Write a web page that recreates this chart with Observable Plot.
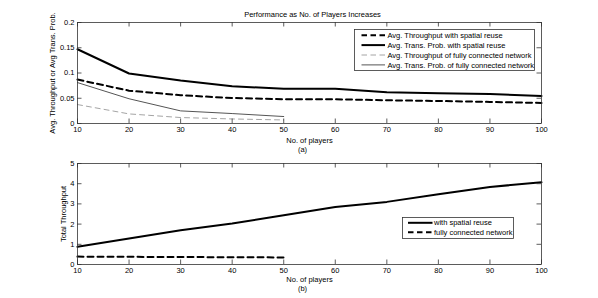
<!DOCTYPE html>
<html>
<head>
<meta charset="utf-8">
<script src="https://cdn.jsdelivr.net/npm/d3@7"></script>
<script src="https://cdn.jsdelivr.net/npm/@observablehq/plot@0.6"></script>
<style>
  html, body { margin: 0; padding: 0; background: #fff; }
  #wrap { position: relative; width: 598px; height: 298px; overflow: hidden; font-family: "Liberation Sans", Arial, sans-serif; }
  #wrap svg.plotsvg { position: absolute; left: 0; }
  .legend { position: absolute; }
</style>
</head>
<body>
<div id="wrap"></div>
<script>
// ---------- data ----------
const players = [10, 20, 30, 40, 50, 60, 70, 80, 90, 100];
const playersFull = [10, 20, 30, 40, 50];

// panel (a)
const avgThrSpatial = [0.087, 0.065, 0.056, 0.0505, 0.048, 0.048, 0.046, 0.0446, 0.0427, 0.0407];
const avgTPSpatial  = [0.147, 0.099, 0.085, 0.0736, 0.069, 0.069, 0.062, 0.060, 0.0585, 0.0545];
const avgThrFull    = [0.0375, 0.019, 0.0118, 0.009, 0.007];
const avgTPFull     = [0.081, 0.049, 0.025, 0.0197, 0.0138];

// panel (b)
const totThrSpatial = [0.88, 1.29, 1.70, 2.03, 2.44, 2.85, 3.10, 3.48, 3.84, 4.07];
const totThrFull    = [0.39, 0.38, 0.37, 0.36, 0.35];

// ticks
const xTicks = [10, 20, 30, 40, 50, 60, 70, 80, 90, 100];
const yTicksA = [0, 0.05, 0.1, 0.15, 0.2];
const yTicksB = [0, 1, 2, 3, 4, 5];

// labels
const titleText = "Performance as No. of Players Increases";
const xLabel = "No. of players";
const yLabelA = "Avg. Throughput or Avg Trans. Prob.";
const yLabelB = "Total Throughput";
const legendA = [
  "Avg. Throughput with spatial reuse",
  "Avg. Trans. Prob. with spatial reuse",
  "Avg. Throughput of fully connected network",
  "Avg. Trans. Prob. of fully connected network"
];
const legendB = ["with spatial reuse", "fully connected network"];

// ---------- styles ----------
const FONT = "Liberation Sans, Arial, sans-serif";
const AX = "#333";
const seriesA = [
  {name: legendA[0], xs: players, ys: avgThrSpatial, stroke: "#000", width: 2, dash: "6,4"},
  {name: legendA[1], xs: players, ys: avgTPSpatial, stroke: "#000", width: 2, dash: null},
  {name: legendA[2], xs: playersFull, ys: avgThrFull, stroke: "#9a9a9a", width: 0.9, dash: "5,4"},
  {name: legendA[3], xs: playersFull, ys: avgTPFull, stroke: "#555", width: 1, dash: null}
];
const seriesB = [
  {name: legendB[0], xs: players, ys: totThrSpatial, stroke: "#000", width: 2, dash: null},
  {name: legendB[1], xs: playersFull, ys: totThrFull, stroke: "#000", width: 2, dash: "6,4"}
];

const W = 598;
const ML = 77, MR = 57;
const TICK = 4.5;

function panel({height, marginTop, marginBottom, yDomain, yTicks, yFormat, series, yLabel, yLabelDx, xLabelDy, capText, capDy, title}) {
  const innerW = W - ML - MR;
  const innerH = height - marginTop - marginBottom;
  const marks = [];
  for (const s of series) {
    const rows = s.xs.map((x, i) => ({x, y: s.ys[i]}));
    marks.push(Plot.line(rows, {x: "x", y: "y", stroke: s.stroke, strokeWidth: s.width, strokeDasharray: s.dash || undefined}));
  }
  marks.push(
    Plot.frame({stroke: AX, strokeWidth: 0.8}),
    // inward ticks on all four sides
    Plot.tickX(xTicks, {x: d => d, insetTop: innerH - TICK, stroke: AX, strokeWidth: 0.8}),
    Plot.tickX(xTicks, {x: d => d, insetBottom: innerH - TICK, stroke: AX, strokeWidth: 0.8}),
    Plot.tickY(yTicks, {y: d => d, insetRight: innerW - TICK, stroke: AX, strokeWidth: 0.8}),
    Plot.tickY(yTicks, {y: d => d, insetLeft: innerW - TICK, stroke: AX, strokeWidth: 0.8}),
    Plot.axisX(xTicks, {tickSize: 0, tickPadding: 3, label: null, fontSize: 7.5, fill: "#000"}),
    Plot.axisY(yTicks, {tickSize: 0, tickPadding: 3, label: null, tickFormat: yFormat, fontSize: 7.5, fill: "#000"}),
    Plot.text([yLabel], {text: d => d, frameAnchor: "left", rotate: -90, textAnchor: "middle", lineAnchor: "middle", dx: yLabelDx, fontSize: 7.5, fill: "#000"}),
    Plot.text([xLabel], {text: d => d, frameAnchor: "bottom", textAnchor: "middle", lineAnchor: "middle", dy: xLabelDy, fontSize: 7.5, fill: "#000"}),
    Plot.text([capText], {text: d => d, frameAnchor: "bottom", textAnchor: "middle", lineAnchor: "middle", dy: capDy, dx: -7, fontSize: 7.5, fill: "#000"})
  );
  if (title) {
    marks.push(Plot.text([title], {text: d => d, frameAnchor: "top", textAnchor: "middle", lineAnchor: "middle", dy: -7.7, dx: 3, fontSize: 7.5, fill: "#000"}));
  }
  const svg = Plot.plot({
    width: W, height,
    marginLeft: ML, marginRight: MR, marginTop, marginBottom,
    x: {domain: [10, 100]},
    y: {domain: yDomain},
    style: {background: "transparent", overflow: "visible", fontFamily: FONT, fontSize: "7.5px", color: "#000"},
    marks
  });
  svg.classList.add("plotsvg");
  return svg;
}

const wrap = document.getElementById("wrap");

const svgA = panel({
  height: 150, marginTop: 22, marginBottom: 27,
  yDomain: [0, 0.2], yTicks: yTicksA, yFormat: d => String(d),
  series: seriesA, yLabel: yLabelA, yLabelDx: -24.5,
  xLabelDy: 17, capText: "(a)", capDy: 26, title: titleText
});
svgA.style.top = "0px";
wrap.appendChild(svgA);

const svgB = panel({
  height: 158, marginTop: 23, marginBottom: 34,
  yDomain: [0, 5], yTicks: yTicksB, yFormat: d => String(d),
  series: seriesB, yLabel: yLabelB, yLabelDx: -14,
  xLabelDy: 15.2, capText: "(b)", capDy: 23.8
});
svgB.style.top = "140px";
wrap.appendChild(svgB);

// ---------- legends ----------
function legend({left, top, width, height, series, row0, rowStep, lineX1, lineX2, textX}) {
  const svg = d3.create("svg")
    .attr("class", "legend")
    .attr("width", width + 1).attr("height", height + 1)
    .style("left", left + "px").style("top", top + "px");
  svg.append("rect").attr("x", 0.5).attr("y", 0.5).attr("width", width - 1).attr("height", height - 1)
    .attr("fill", "#fff").attr("stroke", AX).attr("stroke-width", 0.8);
  series.forEach((s, i) => {
    const cy = row0 + i * rowStep;
    svg.append("line").attr("x1", lineX1).attr("x2", lineX2).attr("y1", cy).attr("y2", cy)
      .attr("stroke", s.stroke).attr("stroke-width", s.width)
      .attr("stroke-dasharray", s.dash ? "5.5,3.5" : null);
    svg.append("text").attr("x", textX).attr("y", cy).attr("dy", "0.35em")
      .attr("font-family", FONT).attr("font-size", 7.5).attr("fill", "#000").text(s.name);
  });
  wrap.appendChild(svg.node());
}

legend({left: 354, top: 29, width: 181, height: 42, series: seriesA, row0: 6.2, rowStep: 9.9, lineX1: 7.5, lineX2: 31, textX: 33.5});
legend({left: 402, top: 217, width: 112, height: 22, series: seriesB, row0: 5.8, rowStep: 9.4, lineX1: 6, lineX2: 30.5, textX: 32});
</script>
</body>
</html>
